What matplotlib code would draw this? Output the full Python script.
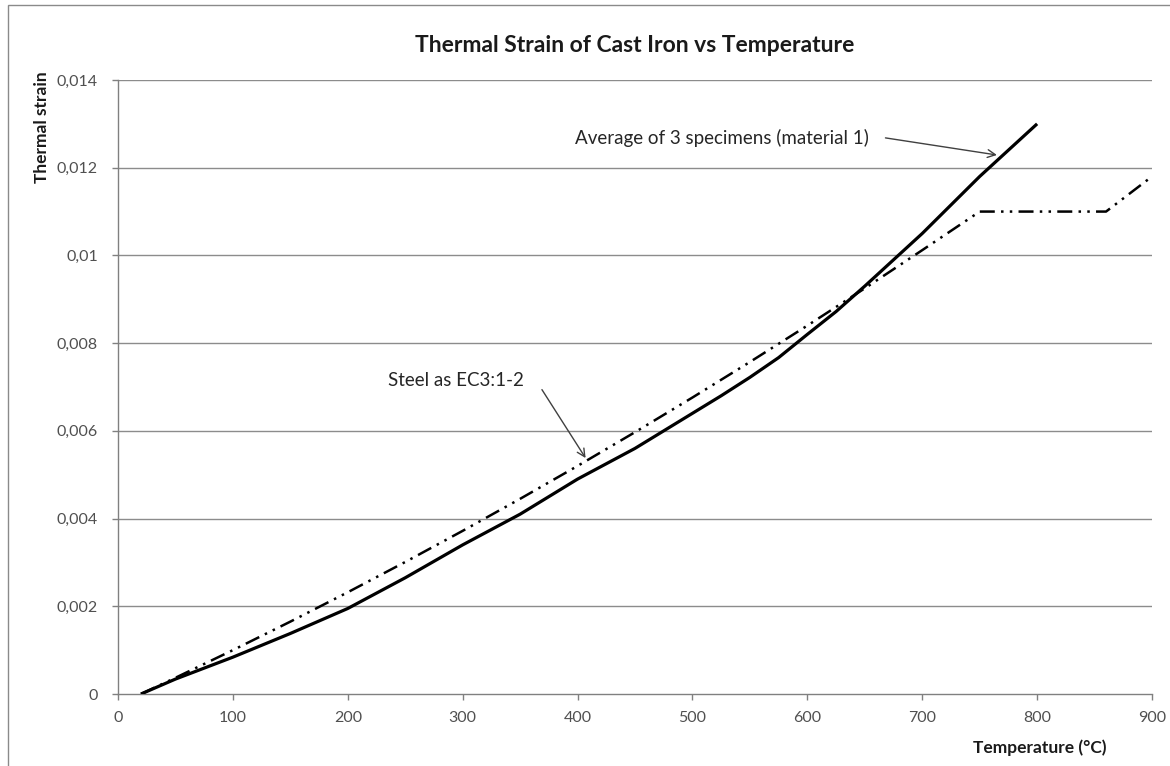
import matplotlib
matplotlib.use("Agg")
import matplotlib.pyplot as plt
from matplotlib.ticker import FixedLocator, FixedFormatter
from matplotlib.patches import Rectangle

plt.rcParams['font.family'] = ['Lato', 'DejaVu Sans']

# ---- data ----
cast_T = [20, 50, 100, 150, 200, 250, 300, 350, 400, 450, 500, 525, 550, 575, 600,
          625, 650, 675, 700, 750, 800]
cast_strain = [0.0, 0.00034, 0.00084, 0.00138, 0.00195, 0.00265, 0.0034, 0.0041, 0.0049,
               0.0056, 0.0064, 0.0068, 0.00722, 0.00767, 0.0082, 0.00872, 0.0093,
               0.00990, 0.0105, 0.0118, 0.0130]

steel_T = [20, 50, 100, 150, 200, 250, 300, 350, 400, 450, 500, 550, 600, 650, 700, 750, 860, 900]
steel_strain = [0.0, 0.00037, 0.00100, 0.00165, 0.00232, 0.00301, 0.00372, 0.00445, 0.00520,
                0.00597, 0.00676, 0.00757, 0.00840, 0.00925, 0.01012, 0.01100, 0.01100, 0.01180]

x_ticks = [0, 100, 200, 300, 400, 500, 600, 700, 800, 900]
x_labels = ['0', '100', '200', '300', '400', '500', '600', '700', '800', '900']
y_ticks = [0, 0.002, 0.004, 0.006, 0.008, 0.01, 0.012, 0.014]
y_labels = ['0', '0,002', '0,004', '0,006', '0,008', '0,01', '0,012', '0,014']

title = 'Thermal Strain of Cast Iron vs Temperature'
xlabel = 'Temperature (\u00b0C)'
ylabel = 'Thermal strain'
ann_cast = 'Average of 3 specimens (material 1)'
ann_steel = 'Steel as EC3:1-2'

W, H = 1170, 766
fig = plt.figure(figsize=(W / 100, H / 100), dpi=100)
ax = fig.add_axes([118 / W, 1 - 694 / H, (1152 - 118) / W, (694 - 80) / H])

grid_c = '#8c8c8c'
for yv in y_ticks[1:]:
    ax.axhline(yv, color=grid_c, lw=1.0, zorder=1)

ax.plot(steel_T, steel_strain, color='black', lw=1.8,
        linestyle=(0, (6, 2.5, 1, 2.5, 1, 2.5)), zorder=3)
ax.plot(cast_T, cast_strain, color='black', lw=2.3, zorder=4, solid_capstyle='butt')

ax.set_xlim(0, 900)
ax.set_ylim(0, 0.014)
ax.xaxis.set_major_locator(FixedLocator(x_ticks))
ax.xaxis.set_major_formatter(FixedFormatter(x_labels))
ax.yaxis.set_major_locator(FixedLocator(y_ticks))
ax.yaxis.set_major_formatter(FixedFormatter(y_labels))

for s in ['top', 'right']:
    ax.spines[s].set_visible(False)
for s in ['left', 'bottom']:
    ax.spines[s].set_color('#808080')
    ax.spines[s].set_linewidth(1.0)

ax.tick_params(axis='x', direction='out', length=4.5, width=1, color='#808080',
               labelsize=11.5, labelcolor='#505050', pad=8)
ax.tick_params(axis='y', direction='out', length=4.5, width=1, color='#808080',
               labelsize=11.5, labelcolor='#505050', pad=10)

fig.text(635 / W, 1 - 45 / H, title, ha='center', va='center',
         fontsize=16.5, fontweight='bold', color='#1a1a1a')
fig.text(42 / W, 1 - 127 / H, ylabel, ha='center', va='center', rotation=90,
         fontsize=12.5, fontweight='bold', color='#1a1a1a')
fig.text(1040 / W, 1 - 748 / H, xlabel, ha='center', va='center',
         fontsize=12.5, fontweight='bold', color='#1a1a1a')

arrow_kw = dict(arrowstyle='->', color='#404040', lw=1.0,
                mutation_scale=14, shrinkA=0, shrinkB=0)

ax.text(398, 0.01268, ann_cast, ha='left', va='center',
        fontsize=13.5, color='#262626')
ax.annotate('', xy=(765, 0.01229), xytext=(668, 0.01268), arrowprops=arrow_kw)

ax.text(235, 0.00715, ann_steel, ha='left', va='center',
        fontsize=13.5, color='#262626')
ax.annotate('', xy=(407, 0.00538), xytext=(369, 0.00694), arrowprops=arrow_kw)

fig.add_artist(Rectangle((8 / W, -0.1), 1.2, 1 - 5 / H + 0.1,
                         transform=fig.transFigure, fill=False,
                         edgecolor='#8a8a8a', lw=1.0))

fig.savefig('out.png', dpi=100)
